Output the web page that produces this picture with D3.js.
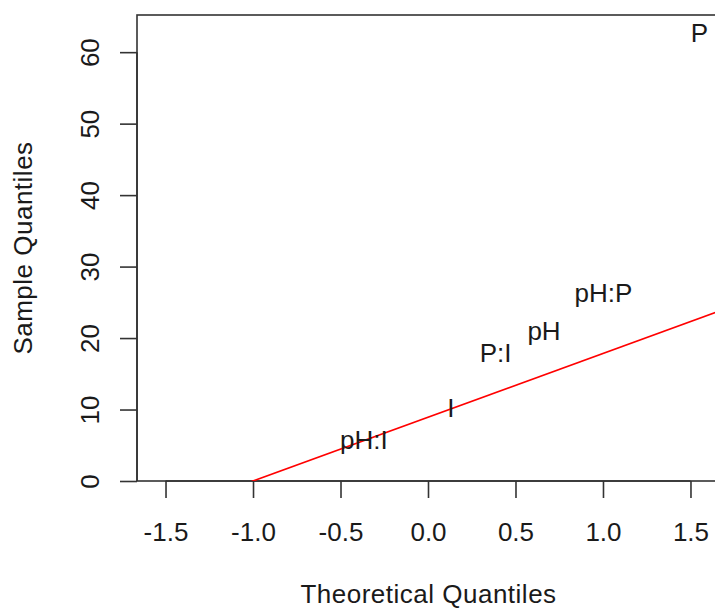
<!DOCTYPE html>
<html>
<head>
<meta charset="utf-8">
<script src="https://cdn.jsdelivr.net/npm/d3@7"></script>
<style>
  body { margin: 0; background: #fff; }
  text { font-family: "Liberation Sans", Arial, sans-serif; fill: #1a1a1a; }
</style>
</head>
<body>
<div id="chart"></div>
<script>
// effect labels with their theoretical / sample quantiles
const labels = ['pH:I', 'I', 'P:I', 'pH', 'pH:P', 'P'];
const theoretical = [-0.366, 0.131, 0.386, 0.663, 1.003, 1.551];
const sample = [5.74, 10.2, 17.9, 21.0, 26.3, 62.7];

const xTicks = [-1.5, -1.0, -0.5, 0.0, 0.5, 1.0, 1.5];
const yTicks = [0, 10, 20, 30, 40, 50, 60];

// reference line (qqline)
const lineIntercept = 8.92;
const lineSlope = 8.92;

const width = 715, height = 609;
const box = { left: 137, right: 719, top: 15, bottom: 481 };
const fontSize = 26;

const svg = d3.select('#chart').append('svg')
  .attr('width', width)
  .attr('height', height);

const x = d3.scaleLinear().domain([-1.663, 1.663]).range([box.left, box.right]);
const y = d3.scaleLinear().domain([0, 65.2]).range([box.bottom, box.top]);

svg.append('defs').append('clipPath').attr('id', 'plotclip')
  .append('rect')
  .attr('x', box.left).attr('y', box.top)
  .attr('width', box.right - box.left).attr('height', box.bottom - box.top);

// axes
const xAxis = d3.axisBottom(x).tickValues(xTicks).tickFormat(d3.format('.1f')).tickSize(17).tickPadding(25);
const yAxis = d3.axisLeft(y).tickValues(yTicks).tickFormat(d3.format('d')).tickSize(17);

const gx = svg.append('g').attr('transform', `translate(0,${box.bottom})`).call(xAxis);
const gy = svg.append('g').attr('transform', `translate(${box.left},0)`).call(yAxis);

[gx, gy].forEach(g => {
  g.select('.domain').remove();
  g.selectAll('.tick line').attr('stroke', '#333').attr('stroke-width', 1.6);
  g.selectAll('.tick text').attr('font-size', fontSize).attr('fill', '#1a1a1a')
    .style('font-family', '"Liberation Sans", Arial, sans-serif');
});
gx.selectAll('.tick text').text(d => d3.format('.1f')(d).replace('−', '-'));

gy.selectAll('.tick text')
  .attr('text-anchor', 'middle')
  .attr('transform', 'translate(-47,0) rotate(-90)')
  .attr('x', 0)
  .attr('y', 0)
  .attr('dy', '0.35em');

// x axis line from first to last tick
svg.append('line')
  .attr('x1', x(xTicks[0])).attr('x2', x(xTicks[xTicks.length - 1]))
  .attr('y1', box.bottom).attr('y2', box.bottom)
  .attr('stroke', '#333').attr('stroke-width', 1.6);
svg.append('line')
  .attr('x1', box.left).attr('x2', box.left)
  .attr('y1', y(yTicks[0])).attr('y2', y(yTicks[yTicks.length - 1]))
  .attr('stroke', '#333').attr('stroke-width', 1.6);

// plot box
svg.append('rect')
  .attr('x', box.left).attr('y', box.top)
  .attr('width', box.right - box.left).attr('height', box.bottom - box.top)
  .attr('fill', 'none').attr('stroke', '#333').attr('stroke-width', 1.6);

// reference line
const xd = x.domain();
svg.append('line')
  .attr('clip-path', 'url(#plotclip)')
  .attr('x1', x(xd[0])).attr('y1', y(lineIntercept + lineSlope * xd[0]))
  .attr('x2', x(xd[1])).attr('y2', y(lineIntercept + lineSlope * xd[1]))
  .attr('stroke', '#ff0000').attr('stroke-width', 1.6);

// labels
svg.selectAll('.lab')
  .data(labels)
  .enter()
  .append('text')
  .attr('class', 'lab')
  .attr('x', (d, i) => x(theoretical[i]))
  .attr('y', (d, i) => y(sample[i]))
  .attr('dy', '0.36em')
  .attr('text-anchor', 'middle')
  .attr('font-size', fontSize)
  .text(d => d);

// axis titles
svg.append('text')
  .attr('x', (box.left + 720) / 2)
  .attr('y', 603)
  .attr('text-anchor', 'middle')
  .attr('font-size', fontSize)
  .attr('letter-spacing', 0.5)
  .text('Theoretical Quantiles');

svg.append('text')
  .attr('transform', `translate(32,${(box.top + box.bottom) / 2}) rotate(-90)`)
  .attr('text-anchor', 'middle')
  .attr('font-size', fontSize)
  .attr('letter-spacing', 0.5)
  .text('Sample Quantiles');
</script>
</body>
</html>
